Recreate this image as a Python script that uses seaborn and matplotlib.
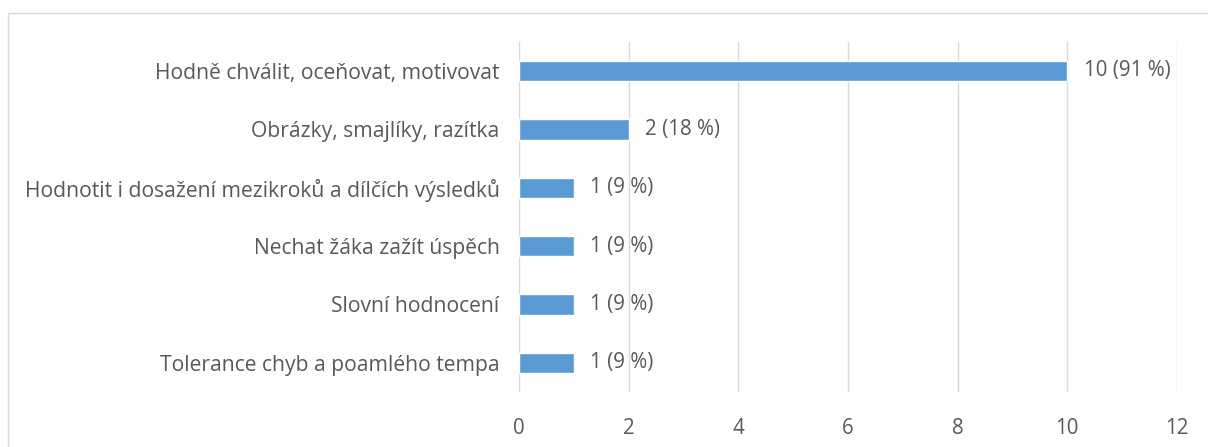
import matplotlib
matplotlib.use('Agg')
import matplotlib.pyplot as plt
import seaborn as sns
import pandas as pd
from matplotlib.patches import Rectangle

# ------------------------
# Data
# ------------------------
categories = [
    'Hodně chválit, oceňovat, motivovat',
    'Obrázky, smajlíky, razítka',
    'Hodnotit i dosažení mezikroků a dílčích výsledků',
    'Nechat žáka zažít úspěch',
    'Slovní hodnocení',
    'Tolerance chyb a poamlého tempa',
]
counts = [10, 2, 1, 1, 1, 1]
percents = [91, 18, 9, 9, 9, 9]
x_ticks = [0, 2, 4, 6, 8, 10, 12]

df = pd.DataFrame({'category': categories, 'count': counts})

# ------------------------
# Plot
# ------------------------
sns.set_theme(style='white')
plt.rcParams['font.family'] = ['Open Sans', 'DejaVu Sans']

text_color = '#595959'
grid_color = '#D9D9D9'
fs = 15.2

fig = plt.figure(figsize=(12.08, 4.47), dpi=100)
ax = fig.add_axes([0.4296, 0.123, 0.5447, 0.7835])

sns.barplot(data=df, y='category', x='count', color='#5B9BD5', saturation=1,
            width=0.35, orient='h', ax=ax)

labels = [f'{c} ({p} %)' for c, p in zip(counts, percents)]
ax.bar_label(ax.containers[0], labels=labels, padding=12, fontsize=fs - 0.4, color=text_color)

ax.set_xlim(0, 12)
ax.set_xticks(x_ticks)
ax.set_ylim(len(categories) - 0.5, -0.5)
ax.grid(axis='x', color=grid_color, linewidth=1)
ax.set_axisbelow(True)
for s in ax.spines.values():
    s.set_visible(False)
ax.set_xlabel('')
ax.set_ylabel('')
ax.tick_params(axis='x', length=0, pad=19, labelsize=fs - 0.4, labelcolor=text_color)
ax.tick_params(axis='y', length=0, pad=14, labelsize=fs, labelcolor=text_color)

# outer chart border
fig.patches.append(Rectangle((8 / 1208, -0.1), 1.2, 1 - 13 / 447 + 0.1,
                             transform=fig.transFigure, fill=False,
                             edgecolor=grid_color, linewidth=1))

fig.savefig('out.png', dpi=100)
